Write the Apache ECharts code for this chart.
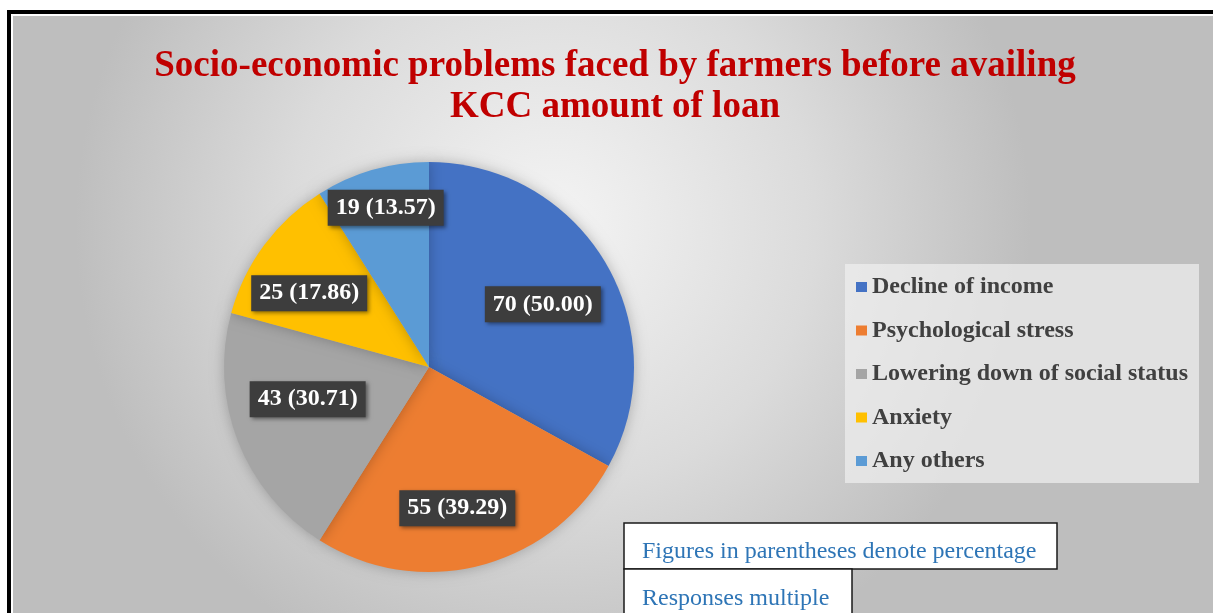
<!DOCTYPE html>
<html>
<head>
<meta charset="utf-8">
<script src="https://cdn.jsdelivr.net/npm/echarts@6/dist/echarts.min.js"></script>
<style>
  html, body { margin: 0; padding: 0; background: #ffffff; }
  #chart { width: 1213px; height: 613px; }
</style>
</head>
<body>
<div id="chart"></div>
<script>
// data
const categories = ['Decline of income', 'Psychological stress', 'Lowering down of social status', 'Anxiety', 'Any others']
const counts = [70, 55, 43, 25, 19]
const percents = [50.00, 39.29, 30.71, 17.86, 13.57]
const notes = ['Figures in parentheses denote percentage', 'Responses multiple']

// styling
const sliceColors = ['#4472c4', '#ed7d31', '#a5a5a5', '#ffc000', '#5b9bd5']
const labelOffsets = [[23, -9], [2, 39], [-23, -6], [-35, -11], [-14, -58]]
const serif = '"Liberation Serif", "Times New Roman", serif'

const chart = echarts.init(document.getElementById('chart'))

const option = {
  backgroundColor: '#ffffff',
  animation: false,
  title: {
    text: 'Socio-economic problems faced by farmers before availing\nKCC amount of loan',
    left: 615,
    top: 46,
    padding: 0,
    textAlign: 'center',
    textStyle: {
      fontFamily: serif,
      fontWeight: 'bold',
      fontSize: 37,
      lineHeight: 41,
      color: '#c00000'
    }
  },
  legend: {
    orient: 'vertical',
    left: 845,
    top: 264,
    padding: [11, 11, 10, 11],
    backgroundColor: 'rgba(240,240,240,0.7)',
    itemWidth: 11,
    itemHeight: 10,
    itemGap: 19.5,
    icon: 'rect',
    data: categories,
    textStyle: {
      fontFamily: serif,
      fontWeight: 'bold',
      fontSize: 24,
      lineHeight: 24,
      color: '#404040'
    }
  },
  graphic: [
    // outer frame: black line on top and left, thin white gap, grey gradient panel
    { type: 'rect', z: -10, shape: { x: 7, y: 10, width: 1220, height: 620 }, style: { fill: '#000000' } },
    { type: 'rect', z: -9, shape: { x: 11, y: 14, width: 1220, height: 620 }, style: { fill: '#ffffff' } },
    {
      type: 'rect', z: -8,
      shape: { x: 13, y: 16, width: 1200, height: 597 },
      style: {
        fill: new echarts.graphic.RadialGradient(0.45, 0.35, 0.8, [
          { offset: 0, color: '#f4f4f4' },
          { offset: 0.55, color: '#dbdbdb' },
          { offset: 1, color: '#bebebe' }
        ])
      }
    },
    // note boxes
    {
      type: 'group', z: 10,
      children: [
        { type: 'rect', shape: { x: 624, y: 523, width: 433, height: 46 }, style: { fill: '#ffffff', stroke: '#1a1a1a', lineWidth: 1.5 } },
        { type: 'text', x: 642, y: 552, style: { text: notes[0], font: '24px ' + serif, fill: '#2e75b6', verticalAlign: 'middle' } },
        { type: 'rect', shape: { x: 624, y: 569, width: 228, height: 60 }, style: { fill: '#ffffff', stroke: '#1a1a1a', lineWidth: 1.5 } },
        { type: 'text', x: 642, y: 599, style: { text: notes[1], font: '24px ' + serif, fill: '#2e75b6', verticalAlign: 'middle' } }
      ]
    }
  ],
  series: [
    {
      type: 'pie',
      center: [429, 367],
      radius: 205,
      startAngle: 90,
      clockwise: true,
      avoidLabelOverlap: false,
      itemStyle: {
        shadowBlur: 14,
        shadowColor: 'rgba(0,0,0,0.25)'
      },
      emphasis: { disabled: true },
      label: {
        show: true,
        position: 'inside',
        fontFamily: serif,
        fontWeight: 'bold',
        fontSize: 24,
        lineHeight: 24,
        color: '#ffffff',
        backgroundColor: '#3d3d3d',
        padding: [6, 8],
        shadowBlur: 4,
        shadowColor: 'rgba(0,0,0,0.45)',
        shadowOffsetX: 2,
        shadowOffsetY: 2,
        formatter: p => counts[p.dataIndex] + ' (' + percents[p.dataIndex].toFixed(2) + ')'
      },
      labelLine: { show: false },
      data: categories.map((name, i) => ({
        name: name,
        value: counts[i],
        itemStyle: { color: sliceColors[i] },
        label: { offset: labelOffsets[i] }
      }))
    }
  ]
}

chart.setOption(option)
</script>
</body>
</html>
